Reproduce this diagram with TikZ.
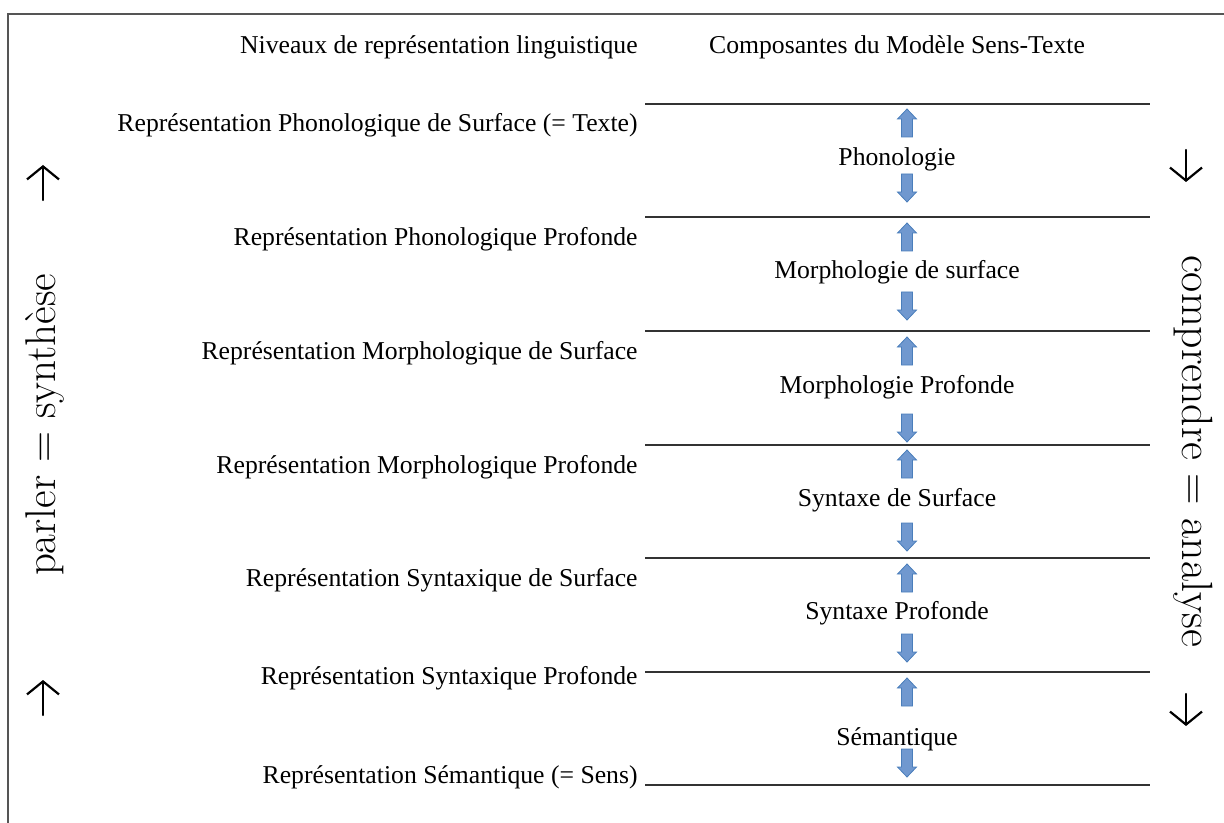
\documentclass[tikz,border=0pt]{standalone}
\usepackage{fontspec}
\newfontfamily\libserif{Liberation Serif}
\usetikzlibrary{arrows.meta}
\definecolor{barrowfill}{HTML}{7098CF}
\definecolor{barrowdraw}{HTML}{4A7EBB}
\definecolor{framegray}{HTML}{555555}
\definecolor{sepgray}{HTML}{333333}
\tikzset{
  lvl/.style={font=\libserif\fontsize{12.85}{15}\selectfont, inner sep=0pt},
  comp/.style={font=\libserif\fontsize{12.85}{15}\selectfont, inner sep=0pt, anchor=base},
  sideleft/.style={font=\fontsize{21.5}{24}\selectfont, inner sep=0pt},
  sideright/.style={font=\fontsize{21.9}{24}\selectfont, inner sep=0pt},
  sep/.style={draw=sepgray, line width=0.75pt},
  sidearrow/.style={line width=1.1pt, line cap=round, -{Straight Barb[length=6.5pt,width=16pt,line width=1.1pt]}},
  uparr/.pic={\filldraw[fill=barrowfill, draw=barrowdraw, line width=0.4pt]
     (0,0) -- (9.5,10) -- (5.5,10) -- (5.5,28) -- (-5.5,28) -- (-5.5,10) -- (-9.5,10) -- cycle;},
  downarr/.pic={\filldraw[fill=barrowfill, draw=barrowdraw, line width=0.4pt]
     (-5.5,0) -- (5.5,0) -- (5.5,18) -- (9.5,18) -- (0,28) -- (-9.5,18) -- (-5.5,18) -- cycle;}
}
\begin{document}
\begin{tikzpicture}[x=0.5pt,y=-0.5pt]
\useasboundingbox (0,0) rectangle (1224,823);
% frame
\draw[framegray, line width=1pt] (8,823) -- (8,14) -- (1224,14);
% headers
\node[lvl, anchor=base east] (h1) at (638,54) {Niveaux de représentation linguistique};
\node[comp] (h2) at (897,54) {Composantes du Modèle Sens-Texte};
% separators
\foreach \yy in {104,217,331,445,558,672,785}{
  \draw[sep] (645,\yy) -- (1150,\yy);
}
% levels
\node[lvl, anchor=base east] (r1) at (638,132) {Représentation Phonologique de Surface (= Texte)};
\node[lvl, anchor=base east] (r2) at (638,246) {Représentation Phonologique Profonde};
\node[lvl, anchor=base east] (r3) at (638,359) {Représentation Morphologique de Surface};
\node[lvl, anchor=base east] (r4) at (638,473) {Représentation Morphologique Profonde};
\node[lvl, anchor=base east] (r5) at (638,586) {Représentation Syntaxique de Surface};
\node[lvl, anchor=base east] (r6) at (638,684) {Représentation Syntaxique Profonde};
\node[lvl, anchor=base east] (r7) at (638,783) {Représentation Sémantique (= Sens)};
% components
\node[comp] (c1) at (897,166) {Phonologie};
\node[comp] (c2) at (897,279) {Morphologie de surface};
\node[comp] (c3) at (897,393) {Morphologie Profonde};
\node[comp] (c4) at (897,506) {Syntaxe de Surface};
\node[comp] (c5) at (897,619) {Syntaxe Profonde};
\node[comp] (c6) at (897,745) {Sémantique};
% block arrows
\foreach \yy in {109,223,337,450,564,678}{ \pic at (907,\yy) {uparr}; }
\foreach \yy in {174,292,414,523,634,749}{ \pic at (907,\yy) {downarr}; }
% side texts
\node[sideleft, rotate=90] (parler) at (45,425) {parler = synthèse};
\node[sideright, rotate=-90] (compr) at (1193,451) {comprendre = analyse};
% side arrows
\coordinate (la1s) at (43,200); \coordinate (la1e) at (43,165);
\coordinate (la2s) at (43,715); \coordinate (la2e) at (43,680);
\coordinate (ra1s) at (1186,150); \coordinate (ra1e) at (1186,182);
\coordinate (ra2s) at (1186,694); \coordinate (ra2e) at (1186,726);
\draw[sidearrow] (la1s) -- (la1e);
\draw[sidearrow] (la2s) -- (la2e);
\draw[sidearrow] (ra1s) -- (ra1e);
\draw[sidearrow] (ra2s) -- (ra2e);
\end{tikzpicture}
\end{document}
